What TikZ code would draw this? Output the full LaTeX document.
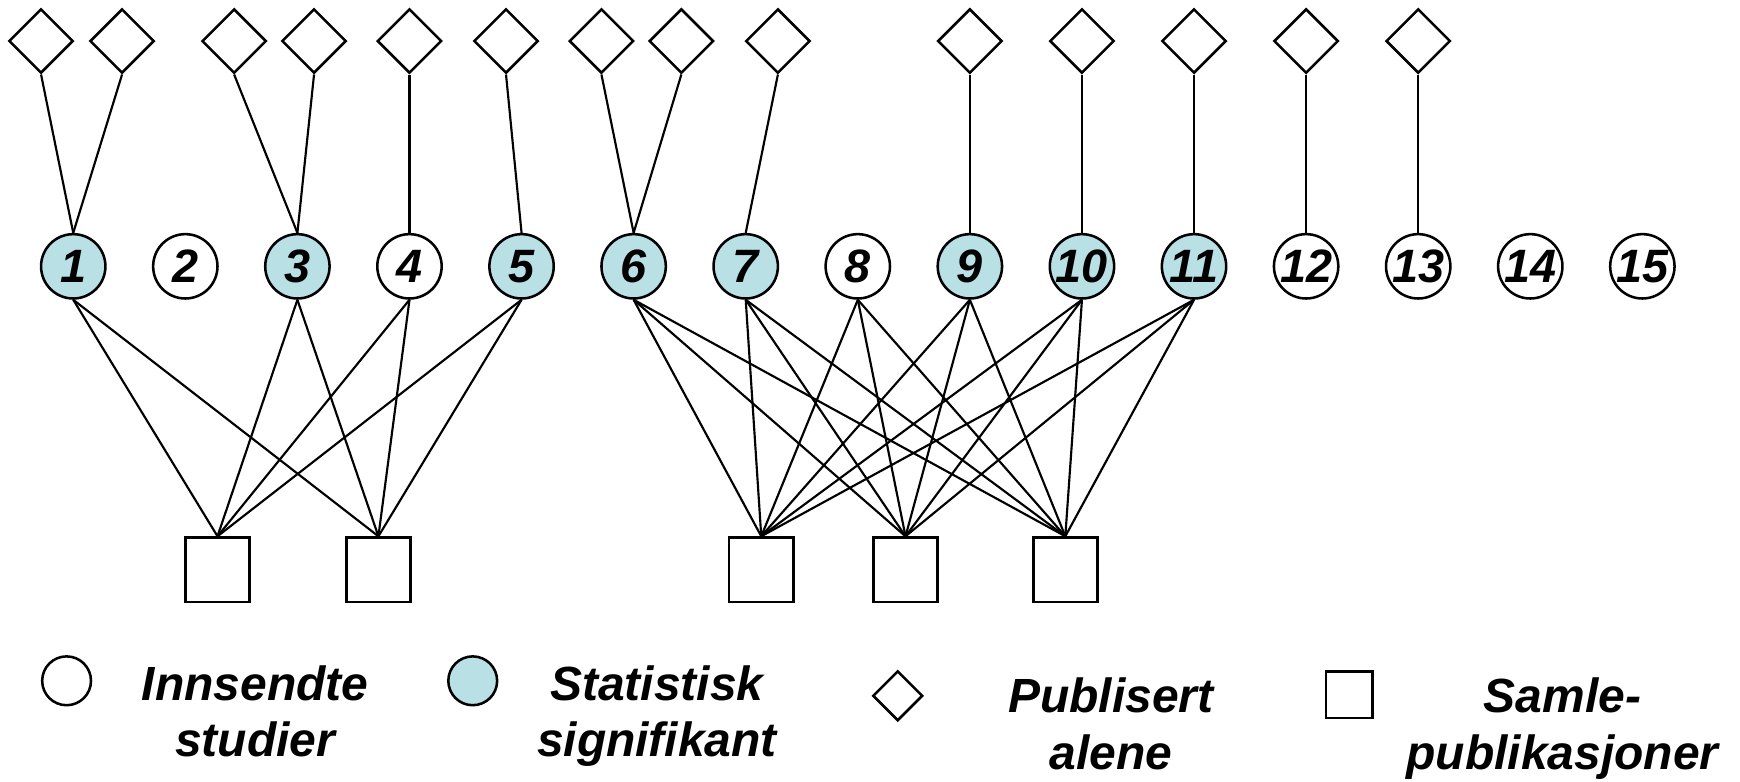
\documentclass[tikz,border=0pt]{standalone}
\usepackage{fontspec}
\setmainfont{Liberation Sans}
\usepackage{xcolor}
\definecolor{sigblue}{RGB}{185,224,228}
\usepackage{tikz}
\usetikzlibrary{positioning,shapes.geometric}

\begin{document}
\begin{tikzpicture}[
  font=\bfseries\itshape\fontsize{12}{13}\selectfont,
  stud/.style = {draw, circle, line width=0.65pt, inner sep=0pt,
                 minimum size=0.58cm, fill=white},
  sig/.style  = {stud, fill=sigblue},
  pub/.style  = {draw, diamond, aspect=1, line width=0.65pt, inner sep=0pt,
                 minimum size=0.58cm},
  saml/.style = {draw, rectangle, line width=0.7pt, inner sep=0pt,
                 minimum size=0.58cm},
  lnk/.style  = {line width=0.55pt, black},
  legtxt/.style = {align=center, font=\bfseries\itshape\fontsize{12.3}{14.5}\selectfont},
]
\useasboundingbox (0,0) rectangle (15.68,7.04);

\node[sig]  at (0.66,4.64)  (s1)  {1};
\node[stud] at (1.67,4.64)  (s2)  {2};
\node[sig]  at (2.68,4.64)  (s3)  {3};
\node[stud] at (3.69,4.64)  (s4)  {4};
\node[sig]  at (4.70,4.64)  (s5)  {5};
\node[sig]  at (5.71,4.64)  (s6)  {6};
\node[sig]  at (6.72,4.64)  (s7)  {7};
\node[stud] at (7.73,4.64)  (s8)  {8};
\node[sig]  at (8.74,4.64)  (s9)  {9};
\node[sig]  at (9.75,4.64)  (s10) {10};
\node[sig]  at (10.76,4.64) (s11) {11};
\node[stud] at (11.77,4.64) (s12) {12};
\node[stud] at (12.78,4.64) (s13) {13};
\node[stud] at (13.79,4.64) (s14) {14};
\node[stud] at (14.80,4.64) (s15) {15};

\node[pub] at (0.37,6.67)  (p1a)  {};
\node[pub] at (1.10,6.67)  (p1b)  {};
\node[pub] at (2.11,6.67)  (p3a)  {};
\node[pub] at (2.83,6.67)  (p3b)  {};
\node[pub] at (3.69,6.67)  (p4)   {};
\node[pub] at (4.56,6.67)  (p5)   {};
\node[pub] at (5.42,6.67)  (p6a)  {};
\node[pub] at (6.14,6.67)  (p6b)  {};
\node[pub] at (7.01,6.67)  (p7)   {};
\node[pub] at (8.74,6.67)  (p9)   {};
\node[pub] at (9.75,6.67)  (p10)  {};
\node[pub] at (10.76,6.67) (p11)  {};
\node[pub] at (11.77,6.67) (p12)  {};
\node[pub] at (12.78,6.67) (p13)  {};

\node[saml] at (1.96,1.905) (sp1) {};
\node[saml] at (3.41,1.905) (sp2) {};
\node[saml] at (6.86,1.905) (sp3) {};
\node[saml] at (8.16,1.905) (sp4) {};
\node[saml] at (9.60,1.905) (sp5) {};

\foreach \p/\s in {p1a/s1, p1b/s1, p3a/s3, p3b/s3, p4/s4, p5/s5, p6a/s6, p6b/s6,
                   p7/s7, p9/s9, p10/s10, p11/s11, p12/s12, p13/s13} {
  \draw[lnk] (\p.south) -- (\s.north);
}
\foreach \s in {s1, s3, s4, s5} {
  \foreach \q in {sp1, sp2} {
    \draw[lnk] (\s.south) -- (\q.north);
  }
}
\foreach \s in {s6, s7, s8, s9, s10, s11} {
  \foreach \q in {sp3, sp4, sp5} {
    \draw[lnk] (\s.south) -- (\q.north);
  }
}

\node[stud, minimum size=0.44cm] at (0.60,0.905) (lstud) {};
\node[legtxt, anchor=base] at (2.30,0.22) (tstud) {Innsendte\\studier};
\node[sig, minimum size=0.44cm] at (4.26,0.905) (lsig) {};
\node[legtxt, anchor=base] at (5.92,0.22) (tsig) {Statistisk\\signifikant};
\node[pub, minimum size=0.45cm] at (8.09,0.77) (lpub) {};
\node[legtxt, anchor=base] at (10.01,0.11) (tpub) {Publisert\\alene};
\node[saml, minimum size=0.42cm] at (12.16,0.78) (lsaml) {};
\node[legtxt, anchor=base] at (14.08,0.11) (tsaml) {Samle-\\publikasjoner};
\end{tikzpicture}
\end{document}
